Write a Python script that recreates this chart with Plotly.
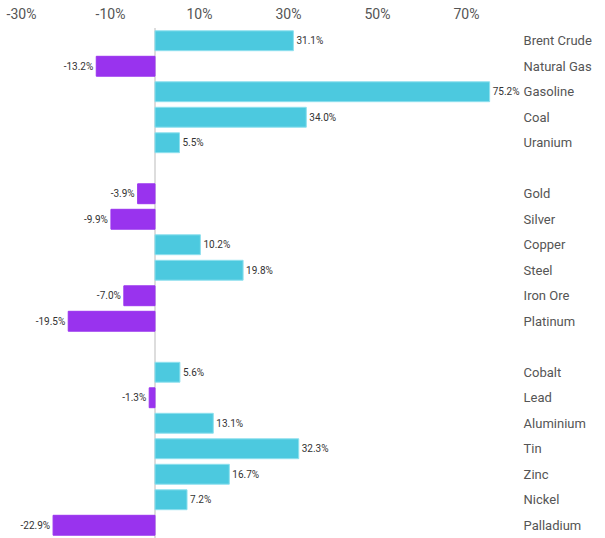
import plotly.graph_objects as go

# Year-to-date price change by commodity, grouped into energy, metals and battery/base metals
groups = [
    ["Brent Crude", "Natural Gas", "Gasoline", "Coal", "Uranium"],
    ["Gold", "Silver", "Copper", "Steel", "Iron Ore", "Platinum"],
    ["Cobalt", "Lead", "Aluminium", "Tin", "Zinc", "Nickel", "Palladium"],
]
changes = [
    [31.1, -13.2, 75.2, 34.0, 5.5],
    [-3.9, -9.9, 10.2, 19.8, -7.0, -19.5],
    [5.6, -1.3, 13.1, 32.3, 16.7, 7.2, -22.9],
]
x_ticks = [-30, -10, 10, 30, 50, 70]

POS_COLOR = "#4cc9df"
NEG_COLOR = "#9933ee"

names, values, rows = [], [], []
row = 0
for g_names, g_vals in zip(groups, changes):
    for n, v in zip(g_names, g_vals):
        names.append(n)
        values.append(v)
        rows.append(row)
        row += 1
    row += 1  # blank row between groups
last_row = max(rows)

colors = [POS_COLOR if v >= 0 else NEG_COLOR for v in values]
lines = ["#8ee0ee" if v >= 0 else NEG_COLOR for v in values]

fig = go.Figure(
    go.Bar(
        x=values,
        y=rows,
        orientation="h",
        marker=dict(color=colors, line=dict(color=lines, width=1)),
        width=0.78,
        text=[f"{v:.1f}%" for v in values],
        textposition="outside",
        textfont=dict(size=10, color="#333333"),
        cliponaxis=False,
        hoverinfo="skip",
    )
)

fig.update_layout(
    width=605,
    height=538,
    margin=dict(l=0, r=88, t=28, b=0),
    paper_bgcolor="white",
    plot_bgcolor="white",
    showlegend=False,
    font=dict(family="Roboto, Arial, sans-serif", color="#555555"),
)
fig.update_xaxes(
    side="top",
    range=[-34.83, 81.35],
    tickvals=x_ticks,
    ticktext=[f"{t}%" for t in x_ticks],
    tickfont=dict(size=14, color="#555555"),
    ticklabelstandoff=5,
    showgrid=False,
    zeroline=True,
    zerolinecolor="#dddddd",
    zerolinewidth=2,
    showline=False,
    ticks="",
)
fig.update_yaxes(
    side="right",
    range=[last_row + 0.5, -0.5],
    tickvals=rows,
    ticktext=names,
    tickfont=dict(size=13, color="#555555"),
    showgrid=False,
    zeroline=False,
    showline=False,
    ticks="outside",
    ticklen=3,
    tickcolor="rgba(0,0,0,0)",
)

fig.write_html("out.html")
